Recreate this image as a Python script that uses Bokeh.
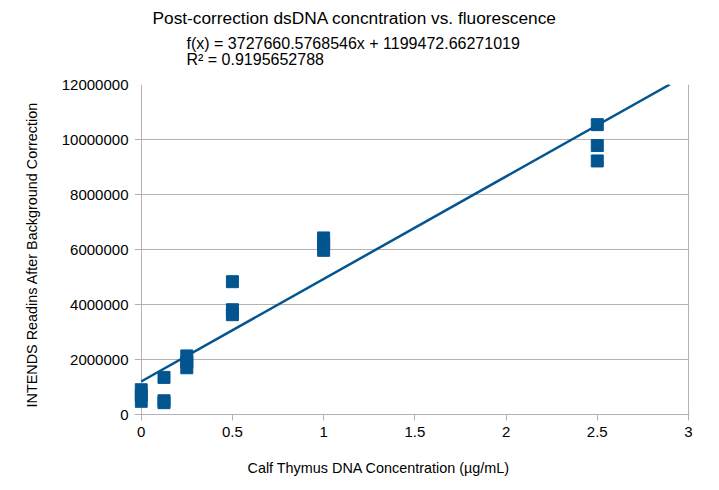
from bokeh.plotting import figure
from bokeh.models import FixedTicker, NumeralTickFormatter, Range1d, Title
from bokeh.embed import file_html
from bokeh.resources import INLINE

# ---- data ----
conc = [0, 0, 0, 0.125, 0.125, 0.125, 0.25, 0.25, 0.25, 0.5, 0.5, 0.5, 1, 1, 1, 2.5, 2.5, 2.5]
readings = [900000, 700000, 480000, 1350000, 500000, 430000, 2130000, 1900000, 1700000,
            4830000, 3810000, 3630000, 6420000, 6200000, 5970000, 10540000, 9780000, 9220000]
slope = 3727660.5768546
intercept = 1199472.66271019
r_squared = "0.9195652788"
x_ticks = [0, 0.5, 1, 1.5, 2, 2.5, 3]
y_ticks = [0, 2000000, 4000000, 6000000, 8000000, 10000000, 12000000]
title_text = "Post-correction dsDNA concntration vs. fluorescence"
x_label = "Calf Thymus DNA Concentration (µg/mL)"
y_label = "INTENDS Readins After Background Correction"

FONT = "Liberation Sans"
BLUE = "#03558f"
GRID = "#b3b3b3"

x_max, y_max = 3, 12000000
FRAME_L, FRAME_R = 134, 689          # page pixels of the drawing frame
FRAME_B = 414
ZERO_PX, THREE_PX = 140.7, 688.0     # page pixels of x=0 and x=3
px_per_unit = (THREE_PX - ZERO_PX) / x_max
x_start = -(ZERO_PX - FRAME_L) / px_per_unit
x_end = x_max + (FRAME_R - THREE_PX) / px_per_unit

W, H = 711, 482
p = figure(width=W, height=H, output_backend="svg", toolbar_location=None,
           x_range=Range1d(x_start, x_end), y_range=Range1d(0, y_max),
           min_border_left=FRAME_L, min_border_right=W - FRAME_R,
           min_border_top=84, min_border_bottom=H - FRAME_B)
p.background_fill_color = "white"
p.border_fill_color = "white"
p.outline_line_color = None

# axes
for ax in (p.xaxis[0], p.yaxis[0]):
    ax.axis_line_color = GRID
    ax.major_tick_line_color = GRID
    ax.major_tick_out = 6
    ax.major_tick_in = 0
    ax.minor_tick_line_color = None
    ax.major_label_text_font = FONT
    ax.major_label_text_font_size = "15px"
    ax.major_label_text_color = "black"
p.xaxis.ticker = FixedTicker(ticks=x_ticks)
p.yaxis.ticker = FixedTicker(ticks=y_ticks)
p.xaxis.formatter = NumeralTickFormatter(format="0.[0]")
p.yaxis.formatter = NumeralTickFormatter(format="0")
p.xaxis.major_label_standoff = 6
# y axis sits at the frame edge; its line and ticks come from the grid (x=0 line, y lines)
p.yaxis.axis_line_color = None
p.yaxis.major_tick_line_color = None
p.yaxis.major_tick_out = 0
p.yaxis.major_label_standoff = 6

# grid: horizontal lines, vertical line at x=0 (axis) and x=3 (right border)
p.ygrid.grid_line_color = GRID
p.ygrid.ticker = FixedTicker(ticks=y_ticks)
p.xgrid.grid_line_color = GRID
p.xgrid.ticker = FixedTicker(ticks=[0, x_max])

# trend line (clipped at the top of the plot)
x_line_end = min(x_max, (y_max - intercept) / slope)
p.line([0, x_line_end], [intercept, intercept + slope * x_line_end], line_color=BLUE, line_width=2.5)

# data points
p.scatter(conc, readings, marker="square", size=12, fill_color=BLUE, line_color=BLUE)

# titles (first added sits nearest the frame)
def add_title(text, size, offset, standoff, place="above", line_height=1.0):
    t = Title(text=text, align="left", offset=offset, standoff=standoff,
              text_font=FONT, text_font_size=size, text_font_style="normal", text_color="black",
              text_line_height=line_height)
    p.add_layout(t, place)

add_title(f"f(x) = {slope}x + {intercept}\nR² = {r_squared}", "16px", 186 - FRAME_L, 32, line_height=0.945)
add_title(title_text, "17.3px", 152 - FRAME_L, -20)
add_title("\n" + x_label, "14.4px", 247 - FRAME_L, 0, place="below", line_height=1.18)
add_title(y_label, "14.4px", FRAME_B - 407, 38, place="left")

open("out.html", "w").write(file_html(p, INLINE))
